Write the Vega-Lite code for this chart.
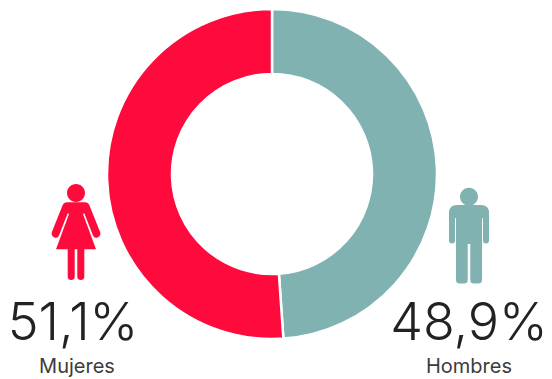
{
  "$schema": "https://vega.github.io/schema/vega-lite/v6.json",
  "width": 552,
  "height": 379,
  "padding": 0,
  "autosize": "none",
  "background": "#ffffff",
  "view": {"stroke": null},
  "data": {
    "values": [
      {"sexo": "Hombres", "porcentaje": 48.9, "etiqueta": "48,9%", "orden": 1},
      {"sexo": "Mujeres", "porcentaje": 51.1, "etiqueta": "51,1%", "orden": 2}
    ]
  },
  "layer": [
    {
      "mark": {"type": "arc", "radius": 165, "radius2": 100, "stroke": "#ffffff", "strokeWidth": 2.5, "x": 272, "y": 174},
      "encoding": {
        "theta": {"field": "porcentaje", "type": "quantitative", "stack": true, "scale": {"domain": [0, 100]}},
        "order": {"field": "orden", "type": "ordinal"},
        "color": {
          "field": "sexo",
          "type": "nominal",
          "scale": {"domain": ["Mujeres", "Hombres"], "range": ["#FE0A3C", "#7FB2B1"]},
          "legend": null
        }
      }
    },
    {
      "transform": [{"filter": "datum.sexo === 'Mujeres'"}],
      "mark": {
        "type": "point",
        "filled": true,
        "opacity": 1,
        "size": 4,
        "strokeWidth": 0,
        "y": 232,
        "shape": "M0 -48 A9 9 0 1 1 0 -30 A9 9 0 1 1 0 -48 Z M-9 -29.7 L9 -29.7 Q12 -29.7 13.5 -26.5 L24.3 0.5 Q25 4 21 5.7 Q18 6.5 17 3.5 L8.3 -18.7 L7 -18 L20 17.3 L8.3 17.3 L8.3 45 Q8 48 5 48 Q1.5 48 1.3 45 L1.3 17.3 L-1.3 17.3 L-1.3 45 Q-1.5 48 -5 48 Q-8 48 -8.3 45 L-8.3 17.3 L-20 17.3 L-7 -18 L-8.3 -18.7 L-17 3.5 Q-18 6.5 -21 5.7 Q-25 4 -24.3 0.5 L-13.5 -26.5 Q-12 -29.7 -9 -29.7 Z"
      },
      "encoding": {
        "x": {"field": "sexo", "type": "nominal", "scale": {"type": "point", "padding": 0, "domain": ["Mujeres", "Hombres"], "range": [76, 469]}, "axis": null},
        "color": {"field": "sexo", "type": "nominal", "legend": null}
      }
    },
    {
      "transform": [{"filter": "datum.sexo === 'Hombres'"}],
      "mark": {
        "type": "point",
        "filled": true,
        "opacity": 1,
        "size": 4,
        "strokeWidth": 0,
        "y": 236,
        "shape": "M0 -48.3 A9 9 0 1 1 0 -30.3 A9 9 0 1 1 0 -48.3 Z M-12 -31 L12 -31 Q20 -31 20 -23 L20 4.5 Q20 7.5 17 7.5 Q14 7.5 14 4.5 L14 -17.7 L13 -17.7 L13 44 Q13 47.5 9 47.5 L5 47.5 Q1.3 47.5 1.3 44 L1.3 8 L-1.3 8 L-1.3 44 Q-1.3 47.5 -5 47.5 L-9 47.5 Q-13 47.5 -13 44 L-13 -17.7 L-14 -17.7 L-14 4.5 Q-14 7.5 -17 7.5 Q-20 7.5 -20 4.5 L-20 -23 Q-20 -31 -12 -31 Z"
      },
      "encoding": {
        "x": {"field": "sexo", "type": "nominal", "scale": {"type": "point", "padding": 0, "domain": ["Mujeres", "Hombres"], "range": [76, 469]}, "axis": null},
        "color": {"field": "sexo", "type": "nominal", "legend": null}
      }
    },
    {
      "mark": {"type": "text", "font": "Inter", "fontWeight": 300, "fontSize": 52, "fill": "#222222", "align": "center", "baseline": "alphabetic", "y": 340},
      "encoding": {
        "x": {"field": "sexo", "type": "nominal", "scale": {"type": "point", "padding": 0, "domain": ["Mujeres", "Hombres"], "range": [73, 469]}, "axis": null},
        "text": {"field": "etiqueta", "type": "nominal"}
      }
    },
    {
      "mark": {"type": "text", "font": "Inter", "fontSize": 20, "fill": "#3c3c3c", "align": "center", "baseline": "alphabetic", "y": 373},
      "encoding": {
        "x": {"field": "sexo", "type": "nominal", "scale": {"type": "point", "padding": 0, "domain": ["Mujeres", "Hombres"], "range": [77, 469]}, "axis": null},
        "text": {"field": "sexo", "type": "nominal"}
      }
    }
  ],
  "resolve": {"scale": {"x": "independent"}}
}
